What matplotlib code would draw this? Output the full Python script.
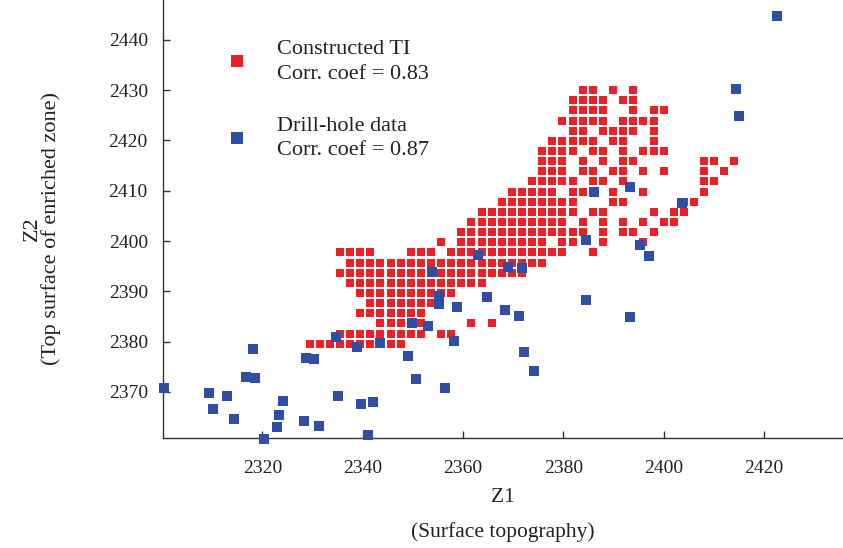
import numpy as np
import matplotlib.pyplot as plt
from matplotlib.lines import Line2D

plt.rcParams['font.family'] = ['Liberation Serif', 'DejaVu Serif']

# Constructed TI: filled cells of a regular grid, listed as column indices for each row
cell = 2.016
ti_z1_origin = 2329.4
ti_z2_origin = 2379.6
ti_rows = [
    list(range(0, 10)),                                   # row 0
    list(range(3, 12)) + [13, 14],
    list(range(7, 12)) + [16, 18],
    list(range(5, 12)),
    list(range(6, 13)),
    list(range(5, 15)),                                   # row 5
    list(range(4, 18)),
    list(range(3, 22)),
    list(range(4, 24)),
    [3, 4, 5, 6, 10, 11, 12] + list(range(14, 26)) + [28],
    [13] + list(range(15, 24)) + [25, 26, 29, 33],         # row 10
    list(range(15, 28)) + [29, 31, 32, 34],
    list(range(16, 26)) + [27, 29, 31, 33, 35, 36],
    list(range(17, 27)) + [28, 29, 34, 36, 37],
    list(range(19, 27)) + [30, 31, 37, 38],
    [20, 21, 22, 23, 24, 26, 27, 30, 33, 39],              # row 15
    [22, 23, 24, 25, 26, 28, 29, 31, 39, 40],
    [23, 24, 25, 27, 28, 30, 31, 33, 35, 39, 41],
    [23, 24, 25, 27, 29, 31, 32, 39, 40, 42],
    [23, 24, 25, 26, 28, 29, 31, 33, 34, 35],
    [24, 25, 26, 27, 28, 30, 31, 34],                      # row 20
    [26, 27, 29, 30, 31, 32, 34],
    [25, 26, 27, 28, 29, 31, 32, 33, 34],
    [26, 27, 28, 29, 32, 34, 35],
    [26, 27, 28, 29, 31, 32],
    [27, 28, 30, 32],                                      # row 25
]

# Drill-hole data
drill_z1 = [2300.3, 2309.4, 2310.2, 2312.9, 2314.4, 2316.8, 2318.2, 2318.5,
            2320.4, 2322.9, 2323.3, 2324.1, 2328.3, 2328.6, 2330.2, 2331.2,
            2334.7, 2335.1, 2338.8, 2339.6, 2341.1, 2342.1, 2343.4, 2349.1,
            2349.8, 2350.6, 2353.1, 2353.7, 2355.1, 2355.1, 2356.4, 2358.2,
            2358.8, 2363.0, 2364.8, 2368.3, 2369.0, 2371.2, 2371.8, 2372.2,
            2374.2, 2384.4, 2384.5, 2386.1, 2393.2, 2393.2, 2395.2, 2397.1,
            2403.6, 2414.3, 2415.0, 2422.5]
drill_z2 = [2370.7, 2369.7, 2366.6, 2369.2, 2364.6, 2373.0, 2378.5, 2372.8,
            2360.6, 2363.1, 2365.4, 2368.3, 2364.2, 2376.8, 2376.5, 2363.3,
            2380.9, 2369.2, 2379.0, 2367.7, 2361.5, 2368.1, 2379.7, 2377.2,
            2383.8, 2372.5, 2383.1, 2393.8, 2389.1, 2387.4, 2370.7, 2380.2,
            2386.8, 2397.2, 2388.8, 2386.3, 2394.9, 2385.0, 2394.7, 2378.0,
            2374.2, 2400.3, 2388.3, 2409.8, 2384.9, 2410.7, 2399.2, 2397.0,
            2407.6, 2430.2, 2424.8, 2444.7]

ti_label = 'Constructed TI\nCorr. coef = 0.83'
drill_label = 'Drill-hole data\nCorr. coef = 0.87'

ti_z1 = []
ti_z2 = []
for r, cols in enumerate(ti_rows):
    for c in cols:
        ti_z1.append(ti_z1_origin + cell * c)
        ti_z2.append(ti_z2_origin + cell * r)

red = '#EA2228'
blue = '#2F4FA5'
ink = '#222222'

fig = plt.figure(figsize=(8.43, 5.48), dpi=100)
ax = fig.add_axes([0.1934, 0.2007, 0.8066, 0.7993])

ax.scatter(ti_z1, ti_z2, s=37, marker='s', color=red, linewidths=0,
           clip_on=False, zorder=2)
ax.scatter(drill_z1, drill_z2, s=48, marker='s', color=blue, linewidths=0,
           clip_on=False, zorder=3)

ax.set_xlim(2300.2, 2435.7)
ax.set_ylim(2360.85, 2447.9)
ax.set_xticks([2320, 2340, 2360, 2380, 2400, 2420])
ax.set_yticks([2370, 2380, 2390, 2400, 2410, 2420, 2430, 2440])

for side in ['top', 'right']:
    ax.spines[side].set_visible(False)
for side in ['left', 'bottom']:
    ax.spines[side].set_color('#333333')
    ax.spines[side].set_linewidth(1.0)

ax.tick_params(direction='in', length=5, width=1.0, color='#333333',
               labelsize=14, labelcolor=ink)
ax.tick_params(axis='x', pad=16)
ax.tick_params(axis='y', pad=11)

ax.set_xlabel('Z1\n(Surface topography)', fontsize=15.5, color=ink,
              linespacing=2.0, labelpad=8)
ax.set_ylabel('Z2\n(Top surface of enriched zone)', fontsize=16,
              color=ink, linespacing=0.95, labelpad=34)
ax.yaxis.label.set_y(0.479)

handles = [
    Line2D([], [], marker='s', linestyle='none', markersize=8.6,
           markerfacecolor=red, markeredgewidth=0),
    Line2D([], [], marker='s', linestyle='none', markersize=8.6,
           markerfacecolor=blue, markeredgewidth=0),
]
leg = ax.legend(handles, [ti_label, drill_label], loc='upper left',
                bbox_to_anchor=(0.0794, 0.928), frameon=False, fontsize=16,
                labelspacing=1.5, handlelength=1.0, handletextpad=1.3,
                borderaxespad=0)
for t in leg.get_texts():
    t.set_linespacing(1.38)
    t.set_color(ink)

fig.savefig('out.png', dpi=100)
